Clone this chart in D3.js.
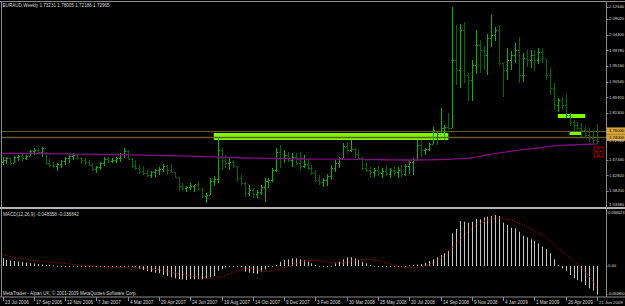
<!DOCTYPE html>
<html>
<head>
<meta charset="utf-8">
<script src="https://cdn.jsdelivr.net/npm/d3@7"></script>
<style>
  body { margin: 0; background: #000; }
  svg { display: block; }
  text { font-family: "Liberation Sans", Arial, sans-serif; }
</style>
</head>
<body>
<svg id="chart" width="625" height="306"></svg>
<script>
// EURAUD weekly, 23 Jul 2006 .. 21 Jun 2009 (153 bars)
const timeLabels = ['23 Jul 2006', '17 Sep 2006', '12 Nov 2006', '7 Jan 2007', '4 Mar 2007', '29 Apr 2007',
  '24 Jun 2007', '19 Aug 2007', '14 Oct 2007', '9 Dec 2007', '3 Feb 2008', '30 Mar 2008', '25 May 2008',
  '20 Jul 2008', '14 Sep 2008', '9 Nov 2008', '4 Jan 2009', '1 Mar 2009', '26 Apr 2009', '21 Jun 2009']
const labelStep = 8

const opens = [1.6676,
  1.6735, 1.6794, 1.6646, 1.6824, 1.6853, 1.6794, 1.6853, 1.7001, 1.7030, 1.6971,
  1.7090, 1.6646, 1.6587, 1.6558, 1.6617, 1.6705, 1.6794, 1.6853, 1.6883, 1.6794,
  1.6735, 1.6676, 1.6587, 1.6469, 1.6528, 1.6646, 1.6765, 1.6705, 1.6735, 1.6794,
  1.6912, 1.7001, 1.6765, 1.6558, 1.6499, 1.6410, 1.6351, 1.6292, 1.6380, 1.6439,
  1.6469, 1.6558, 1.6439, 1.6380, 1.6233, 1.5967, 1.5908, 1.5937, 1.5967, 1.6026,
  1.5878, 1.5671, 1.5701, 1.6114, 1.6174, 1.7030, 1.6735, 1.6646, 1.6676, 1.6558,
  1.6203, 1.6055, 1.5760, 1.5848, 1.5730, 1.5789, 1.5937, 1.6114, 1.6144, 1.6439,
  1.6971, 1.6794, 1.6883, 1.6735, 1.6824, 1.6646, 1.6558, 1.6617, 1.6499, 1.6351,
  1.6144, 1.6085, 1.6144, 1.6262, 1.6499, 1.6646, 1.6794, 1.7149, 1.7030, 1.7060,
  1.6912, 1.6794, 1.6499, 1.6439, 1.6380, 1.6439, 1.6351, 1.6410, 1.6321, 1.6439,
  1.6380, 1.6439, 1.6321, 1.6558, 1.6676, 1.6735, 1.7178, 1.7030, 1.7060, 1.7208,
  1.7621, 1.7503, 1.7681, 1.7710, 1.7681, 1.9690, 1.9394, 2.0577, 1.9247, 1.9099,
  1.9542, 2.0133, 1.9985, 1.9838, 2.0340, 2.0429, 2.0577, 1.9601, 1.9394, 1.9690,
  1.9838, 1.9985, 1.9247, 1.9749, 1.9690, 1.9838, 1.9690, 1.9926, 1.9749, 1.9247,
  1.8863, 1.8360, 1.8508, 1.8360, 1.8065, 1.7858, 1.7769, 1.7681, 1.7621, 1.7474,
  1.7385, 1.73231]

const highs = [
  1.6824, 1.6824, 1.6794, 1.6853, 1.6883, 1.6912, 1.6883, 1.7030, 1.7090, 1.7090,
  1.7119, 1.6971, 1.6765, 1.6676, 1.6646, 1.6735, 1.6824, 1.6883, 1.6942, 1.6912,
  1.6824, 1.6794, 1.6735, 1.6646, 1.6558, 1.6676, 1.6824, 1.6824, 1.6794, 1.6824,
  1.6942, 1.7090, 1.7030, 1.6794, 1.6735, 1.6587, 1.6558, 1.6439, 1.6410, 1.6469,
  1.6528, 1.6617, 1.6587, 1.6617, 1.6380, 1.6233, 1.6055, 1.5967, 1.6055, 1.5996,
  1.6085, 1.5908, 1.5760, 1.6203, 1.6262, 1.7385, 1.7090, 1.6883, 1.6794, 1.6735,
  1.6558, 1.6292, 1.6085, 1.5996, 1.5908, 1.5848, 1.5996, 1.6203, 1.6203, 1.6499,
  1.7090, 1.7178, 1.7030, 1.6971, 1.6942, 1.6942, 1.6971, 1.6883, 1.6735, 1.6587,
  1.6439, 1.6292, 1.6203, 1.6321, 1.6587, 1.6735, 1.6824, 1.7237, 1.7267, 1.7326,
  1.7090, 1.7030, 1.6824, 1.6676, 1.6528, 1.6499, 1.6558, 1.6499, 1.6558, 1.6499,
  1.6558, 1.6528, 1.6587, 1.6617, 1.6735, 1.6794, 1.7326, 1.7326, 1.7090, 1.7237,
  1.7710, 1.7562, 1.8272, 1.7769, 1.8124, 2.1264, 2.0724, 2.0754, 2.0813, 1.9306,
  1.9690, 2.0577, 2.0281, 2.0104, 2.0458, 2.1020, 2.0665, 2.0695, 1.9601, 2.0045,
  1.9956, 2.0192, 2.0370, 1.9897, 1.9985, 1.9985, 1.9985, 2.0045, 2.0045, 1.9720,
  1.9454, 1.9010, 1.8567, 1.8597, 1.8656, 1.8124, 1.7917, 1.7858, 1.7828, 1.7710,
  1.7681, 1.7621, 1.78005]

const lows = [
  1.6587, 1.6617, 1.6587, 1.6646, 1.6705, 1.6676, 1.6735, 1.6853, 1.6883, 1.6942,
  1.6824, 1.6587, 1.6528, 1.6499, 1.6410, 1.6499, 1.6587, 1.6646, 1.6735, 1.6735,
  1.6617, 1.6587, 1.6558, 1.6410, 1.6351, 1.6439, 1.6558, 1.6646, 1.6646, 1.6646,
  1.6676, 1.6794, 1.6735, 1.6499, 1.6439, 1.6321, 1.6292, 1.6233, 1.6203, 1.6233,
  1.6292, 1.6380, 1.6292, 1.6351, 1.6203, 1.5819, 1.5848, 1.5789, 1.5848, 1.5789,
  1.5848, 1.5612, 1.5464, 1.5701, 1.5967, 1.6055, 1.6439, 1.6499, 1.6439, 1.6499,
  1.6085, 1.5996, 1.5642, 1.5671, 1.5612, 1.5612, 1.5701, 1.5494, 1.5908, 1.6085,
  1.6380, 1.6499, 1.6646, 1.6676, 1.6528, 1.6587, 1.6439, 1.6499, 1.6439, 1.6292,
  1.6085, 1.5996, 1.5937, 1.5967, 1.6144, 1.6380, 1.6499, 1.6794, 1.6942, 1.6971,
  1.6794, 1.6735, 1.6439, 1.6380, 1.6203, 1.6233, 1.6262, 1.6203, 1.6262, 1.6203,
  1.6262, 1.6203, 1.6233, 1.6262, 1.6321, 1.6292, 1.6735, 1.6824, 1.6883, 1.7001,
  1.7208, 1.7178, 1.7533, 1.7326, 1.7621, 1.7681, 1.8951, 1.8863, 1.9010, 1.8478,
  1.8478, 1.9276, 1.9306, 1.9394, 1.9247, 2.0074, 2.0251, 1.9542, 1.8597, 1.9099,
  1.9394, 1.9601, 1.9010, 1.9040, 1.9483, 1.9454, 1.9365, 1.9572, 1.9601, 1.9099,
  1.8656, 1.8212, 1.8153, 1.8212, 1.7976, 1.7740, 1.7562, 1.7621, 1.7415, 1.7385,
  1.7267, 1.7208, 1.72186]

const closes = [
  1.6735, 1.6794, 1.6646, 1.6824, 1.6853, 1.6794, 1.6853, 1.7001, 1.7030, 1.6971,
  1.7090, 1.6646, 1.6587, 1.6558, 1.6617, 1.6705, 1.6794, 1.6853, 1.6883, 1.6794,
  1.6735, 1.6676, 1.6587, 1.6469, 1.6528, 1.6646, 1.6765, 1.6705, 1.6735, 1.6794,
  1.6912, 1.7001, 1.6765, 1.6558, 1.6499, 1.6410, 1.6351, 1.6292, 1.6380, 1.6439,
  1.6469, 1.6558, 1.6439, 1.6380, 1.6233, 1.5967, 1.5908, 1.5937, 1.5967, 1.6026,
  1.5878, 1.5671, 1.5701, 1.6114, 1.6174, 1.7030, 1.6735, 1.6646, 1.6676, 1.6558,
  1.6203, 1.6055, 1.5760, 1.5848, 1.5730, 1.5789, 1.5937, 1.6114, 1.6144, 1.6439,
  1.6971, 1.6794, 1.6883, 1.6735, 1.6824, 1.6646, 1.6558, 1.6617, 1.6499, 1.6351,
  1.6144, 1.6085, 1.6144, 1.6262, 1.6499, 1.6646, 1.6794, 1.7149, 1.7030, 1.7060,
  1.6912, 1.6794, 1.6499, 1.6439, 1.6380, 1.6439, 1.6351, 1.6410, 1.6321, 1.6439,
  1.6380, 1.6439, 1.6321, 1.6558, 1.6676, 1.6735, 1.7178, 1.7030, 1.7060, 1.7208,
  1.7621, 1.7503, 1.7681, 1.7710, 1.7681, 1.9690, 1.9394, 2.0577, 1.9247, 1.9099,
  1.9542, 2.0133, 1.9985, 1.9838, 2.0340, 2.0429, 2.0577, 1.9601, 1.9394, 1.9690,
  1.9838, 1.9985, 1.9247, 1.9749, 1.9690, 1.9838, 1.9690, 1.9926, 1.9749, 1.9247,
  1.8863, 1.8360, 1.8508, 1.8360, 1.8065, 1.7858, 1.7769, 1.7681, 1.7621, 1.7474,
  1.7385, 1.73231, 1.72965]

// purple moving average on the price window
const movingAvg = [
  1.6933, 1.6932, 1.6931, 1.6930, 1.6929, 1.6928, 1.6927, 1.6925, 1.6924, 1.6923,
  1.6922, 1.6921, 1.6920, 1.6918, 1.6917, 1.6916, 1.6915, 1.6914, 1.6912, 1.6911,
  1.6910, 1.6909, 1.6908, 1.6906, 1.6905, 1.6904, 1.6902, 1.6899, 1.6897, 1.6894,
  1.6892, 1.6890, 1.6887, 1.6885, 1.6882, 1.6880, 1.6878, 1.6875, 1.6873, 1.6870,
  1.6868, 1.6866, 1.6863, 1.6861, 1.6858, 1.6856, 1.6854, 1.6851, 1.6849, 1.6846,
  1.6844, 1.6839, 1.6835, 1.6830, 1.6826, 1.6821, 1.6817, 1.6812, 1.6808, 1.6803,
  1.6801, 1.6799, 1.6796, 1.6794, 1.6792, 1.6790, 1.6787, 1.6785, 1.6783, 1.6781,
  1.6779, 1.6776, 1.6774, 1.6772, 1.6770, 1.6767, 1.6765, 1.6764, 1.6764, 1.6763,
  1.6762, 1.6762, 1.6761, 1.6760, 1.6760, 1.6759, 1.6758, 1.6757, 1.6757, 1.6756,
  1.6754, 1.6753, 1.6751, 1.6750, 1.6748, 1.6746, 1.6745, 1.6743, 1.6742, 1.6740,
  1.6738, 1.6737, 1.6735, 1.6735, 1.6735, 1.6735, 1.6735, 1.6735, 1.6737, 1.6740,
  1.6743, 1.6746, 1.6749, 1.6752, 1.6755, 1.6761, 1.6767, 1.6773, 1.6779, 1.6785,
  1.6800, 1.6820, 1.6843, 1.6863, 1.6883, 1.6903, 1.6923, 1.6943, 1.6963, 1.6978,
  1.6994, 1.7010, 1.7027, 1.7040, 1.7052, 1.7063, 1.7075, 1.7090, 1.7107, 1.7124,
  1.7141, 1.7153, 1.7160, 1.7167, 1.7173, 1.7179, 1.7183, 1.7187, 1.7192, 1.7196,
  1.7200, 1.7204, 1.7208]

// MACD(12,26,9): main (histogram) and signal (dotted)
const macdMain = [
  0.0136, 0.0102, 0.0094, 0.0085, 0.0077, 0.0068, 0.0060, 0.0051, 0.0043, 0.0034,
  0.0026, 0.0017, 0.0017, 0.0009, 0.0004, 0.0002, -0.0003, -0.0005, -0.0004, -0.0006,
  -0.0008, -0.0007, -0.0010, -0.0012, -0.0011, -0.0009, -0.0010, -0.0008, -0.0006, -0.0007,
  -0.0009, -0.0010, -0.0012, -0.0015, -0.0020, -0.0048, -0.0068, -0.0085, -0.0102, -0.0114,
  -0.0124, -0.0153, -0.0170, -0.0193, -0.0210, -0.0222, -0.0230, -0.0239, -0.0222, -0.0227,
  -0.0222, -0.0227, -0.0210, -0.0193, -0.0170, -0.0080, -0.0056, -0.0026, -0.0012, -0.0012,
  -0.0012, -0.0017, -0.0097, -0.0114, -0.0124, -0.0136, -0.0097, -0.0056, -0.0017, -0.0012,
  0.0017, 0.0073, 0.0102, 0.0114, 0.0131, 0.0131, 0.0114, 0.0102, 0.0073, 0.0046,
  0.0017, 0.0002, -0.0012, -0.0012, 0.0003, 0.0046, 0.0073, 0.0114, 0.0148, 0.0148,
  0.0131, 0.0102, 0.0073, 0.0046, 0.0017, 0.0002, -0.0012, -0.0012, -0.0005, -0.0005,
  -0.0005, -0.0005, -0.0004, 0.0001, 0.0009, 0.0017, 0.0026, 0.0034, 0.0056, 0.0085,
  0.0114, 0.0148, 0.0187, 0.0216, 0.0261, 0.0557, 0.0631, 0.0767, 0.0755, 0.0738,
  0.0755, 0.0801, 0.0796, 0.0830, 0.0840, 0.0852, 0.0869, 0.0852, 0.0738, 0.0699,
  0.0653, 0.0643, 0.0585, 0.0511, 0.0489, 0.0455, 0.0431, 0.0387, 0.0329, 0.0285,
  0.0216, 0.0114, 0.0017, -0.0039, -0.0080, -0.0153, -0.0210, -0.0239, -0.0268, -0.0324,
  -0.0380, -0.0421, -0.048358]

const macdSignal = [
  0.0196, 0.0179, 0.0162, 0.0148, 0.0136, 0.0128, 0.0116, 0.0102, 0.0094, 0.0089,
  0.0082, 0.0072, 0.0063, 0.0058, 0.0053, 0.0049, 0.0043, 0.0036, 0.0029, 0.0022,
  0.0015, 0.0009, 0.0002, -0.0003, -0.0009, -0.0012, -0.0015, -0.0019, -0.0022, -0.0026,
  -0.0029, -0.0031, -0.0032, -0.0034, -0.0034, -0.0038, -0.0043, -0.0049, -0.0056, -0.0061,
  -0.0066, -0.0077, -0.0089, -0.0099, -0.0112, -0.0128, -0.0141, -0.0157, -0.0167, -0.0179,
  -0.0187, -0.0199, -0.0210, -0.0218, -0.0213, -0.0201, -0.0182, -0.0162, -0.0136, -0.0114,
  -0.0090, -0.0065, -0.0043, -0.0039, -0.0043, -0.0060, -0.0082, -0.0094, -0.0089, -0.0082,
  -0.0065, -0.0048, -0.0027, -0.0007, 0.0017, 0.0043, 0.0063, 0.0080, 0.0089, 0.0092,
  0.0092, 0.0090, 0.0082, 0.0072, 0.0061, 0.0056, 0.0055, 0.0056, 0.0065, 0.0077,
  0.0094, 0.0106, 0.0112, 0.0114, 0.0112, 0.0106, 0.0095, 0.0077, 0.0058, 0.0038,
  0.0019, 0.0000, -0.0014, -0.0026, -0.0034, -0.0034, -0.0026, -0.0012, 0.0009, 0.0029,
  0.0051, 0.0085, 0.0128, 0.0176, 0.0251, 0.0315, 0.0384, 0.0452, 0.0516, 0.0580,
  0.0631, 0.0677, 0.0719, 0.0757, 0.0781, 0.0801, 0.0811, 0.0815, 0.0813, 0.0801,
  0.0784, 0.0762, 0.0733, 0.0699, 0.0665, 0.0631, 0.0597, 0.0562, 0.0528, 0.0486,
  0.0426, 0.0366, 0.0307, 0.0256, 0.0196, 0.0145, 0.0085, 0.0026, -0.0034, -0.0102,
  -0.0170, -0.0256, -0.038842]

// user drawn objects
const hLevels = [1.76, 1.74]
const boxFrom = [54, 142, 145]
const boxTo = [114, 149, 148]
const boxTop = [1.7533, 1.8094, 1.7592]
const boxBottom = [1.7326, 1.7976, 1.7474]
const arrowBar = 152.4
const arrowPrice = 1.6971

// price scale labels
const priceTicks = [2.0902, 2.0440, 1.9978, 1.9516, 1.9054, 1.8592, 1.8130, 1.7668,
  1.7206, 1.6744, 1.6282, 1.5820, 1.5358]
const priceTop = 2.1264
const macdTicks = [0.094623, 0, -0.0518]
const macdTickText = ['0.094623', '0.00', '-0.051800']

const W = 625
const H = 306
const scaleX = 606
const fontSize = 4.6
const scaleFont = 4.2
const textColor = '#d8d8d8'

const svg = d3.select('#chart')
svg.append('rect').attr('width', W).attr('height', H).attr('fill', '#000')

const x = d3.scaleLinear().domain([0, closes.length - 1]).range([2.5, 597])
const y = d3.scaleLinear().domain([1.5358, 2.1404]).range([206.6, 2])
const ym = d3.scaleLinear().domain([-0.0518, 0.094623]).range([296.4, 210.5])

let defs = svg.append('defs')
defs.append('clipPath').attr('id', 'clipPrice').append('rect')
  .attr('x', 2).attr('y', 2).attr('width', scaleX - 2).attr('height', 205)
defs.append('clipPath').attr('id', 'clipMacd').append('rect')
  .attr('x', 2).attr('y', 210).attr('width', scaleX - 2).attr('height', 87)

let bars = d3.range(closes.length).map(function (i) {
  return { i: i, o: opens[i], h: highs[i], l: lows[i], c: closes[i] }
})

// ---- price window ----
let price = svg.append('g').attr('clip-path', 'url(#clipPrice)')

price.selectAll('rect.box')
  .data(boxFrom)
  .enter().append('rect')
  .attr('class', 'box')
  .attr('x', function (d) { return x(d) })
  .attr('y', function (d, k) { return y(boxTop[k]) })
  .attr('width', function (d, k) { return x(boxTo[k]) - x(d) })
  .attr('height', function (d, k) { return y(boxBottom[k]) - y(boxTop[k]) })
  .attr('fill', '#7cfc00')

price.selectAll('line.level')
  .data(hLevels)
  .enter().append('line')
  .attr('class', 'level')
  .attr('x1', 2).attr('x2', scaleX)
  .attr('y1', function (d) { return Math.round(y(d)) + 0.5 })
  .attr('y2', function (d) { return Math.round(y(d)) + 0.5 })
  .attr('stroke', '#6b5626')
  .attr('stroke-width', function (d, k) { return k === 0 ? 1 : 1.6 })

let barG = price.selectAll('g.bar')
  .data(bars)
  .enter().append('g')
  .attr('class', 'bar')
  .attr('fill', function (d) { return d.c >= d.o ? '#00b800' : '#006800' })

barG.append('rect')
  .attr('x', function (d) { return Math.round(x(d.i)) })
  .attr('y', function (d) { return Math.round(y(d.h)) })
  .attr('width', 1)
  .attr('height', function (d) { return Math.max(1, Math.round(y(d.l)) - Math.round(y(d.h))) })
barG.append('rect')
  .attr('x', function (d) { return Math.round(x(d.i)) - 1 })
  .attr('y', function (d) { return Math.round(y(d.o)) })
  .attr('width', 1).attr('height', 1)
barG.append('rect')
  .attr('x', function (d) { return Math.round(x(d.i)) + 1 })
  .attr('y', function (d) { return Math.round(y(d.c)) })
  .attr('width', 1).attr('height', 1)

price.append('path')
  .datum(movingAvg)
  .attr('fill', 'none')
  .attr('stroke', '#800880')
  .attr('stroke-width', 1.3)
  .attr('d', d3.line().x(function (d, i) { return x(i) }).y(function (d) { return y(d) }))

// red arrow marker
let ax = x(arrowBar)
let ay = y(arrowPrice)
price.append('rect')
  .attr('x', ax - 4.5).attr('y', ay - 5).attr('width', 9).attr('height', 10)
  .attr('fill', 'none').attr('stroke', '#a80000').attr('stroke-width', 1)
price.append('path')
  .attr('d', 'M' + ax + ',' + (ay - 3.5) + 'L' + (ax + 3) + ',' + (ay - 0.5) + 'H' + (ax + 1.2) +
    'V' + (ay + 3.5) + 'H' + (ax - 1.2) + 'V' + (ay - 0.5) + 'H' + (ax - 3) + 'Z')
  .attr('fill', 'none').attr('stroke', '#c00000').attr('stroke-width', 0.8)

// ---- MACD window ----
let macd = svg.append('g').attr('clip-path', 'url(#clipMacd)')
macd.selectAll('rect.hist')
  .data(macdMain)
  .enter().append('rect')
  .attr('class', 'hist')
  .attr('x', function (d, i) { return Math.round(x(i)) })
  .attr('y', function (d) { return Math.min(ym(d), ym(0)) })
  .attr('width', 1)
  .attr('height', function (d) { return Math.max(0.8, Math.abs(ym(d) - ym(0))) })
  .attr('fill', '#c4c4c4')

macd.append('path')
  .datum(macdSignal)
  .attr('fill', 'none')
  .attr('stroke', '#d40000')
  .attr('stroke-width', 1)
  .attr('stroke-dasharray', '1,1.6')
  .attr('d', d3.line().x(function (d, i) { return x(i) }).y(function (d) { return ym(d) }))

// ---- frames ----
let frame = svg.append('g').attr('fill', '#8c8c8c')
frame.append('rect').attr('x', 0).attr('y', 1).attr('width', W).attr('height', 1)
frame.append('rect').attr('x', 1).attr('y', 1).attr('width', 1).attr('height', 296)
frame.append('rect').attr('x', scaleX).attr('y', 1).attr('width', 1).attr('height', 296)
frame.append('rect').attr('x', 0).attr('y', 207).attr('width', W).attr('height', 2).attr('fill', '#b4b4b4')
frame.append('rect').attr('x', 0).attr('y', 296.5).attr('width', W).attr('height', 1)

// ---- price scale ----
let specials = [{ v: hLevels[0], box: true }, { v: hLevels[1], box: true }, { v: closes[closes.length - 1], box: false }]
let scale = svg.append('g').attr('font-size', scaleFont)

let gridTicks = priceTicks.filter(function (p) {
  return specials.every(function (s) { return Math.abs(y(s.v) - y(p)) > 5 })
})
let tickRows = [{ v: priceTop, t: priceTop.toFixed(5) }].concat(gridTicks.map(function (p) {
  return { v: p, t: p.toFixed(5) }
}))
scale.selectAll('line.ptick')
  .data(tickRows)
  .enter().append('line')
  .attr('x1', scaleX).attr('x2', scaleX + 2.5)
  .attr('y1', function (d) { return Math.round(y(d.v)) + 0.5 })
  .attr('y2', function (d) { return Math.round(y(d.v)) + 0.5 })
  .attr('stroke', '#8c8c8c')
scale.selectAll('text.ptick')
  .data(tickRows)
  .enter().append('text')
  .attr('x', scaleX + 3)
  .attr('y', function (d) { return Math.min(205, Math.max(4, y(d.v))) })
  .attr('dy', '0.35em')
  .attr('fill', textColor)
  .text(function (d) { return d.t })

let sp = scale.selectAll('g.special').data(specials).enter().append('g')
sp.filter(function (d) { return d.box }).append('rect')
  .attr('x', scaleX + 1).attr('width', W - scaleX - 1)
  .attr('y', function (d) { return y(d.v) - 3.3 }).attr('height', 6.6)
  .attr('fill', '#d9a33a')
sp.append('text')
  .attr('x', scaleX + 3)
  .attr('y', function (d) { return y(d.v) })
  .attr('dy', '0.35em')
  .attr('fill', function (d) { return d.box ? '#000' : textColor })
  .text(function (d) { return d.v.toFixed(5) })

// MACD scale
scale.selectAll('text.mtick')
  .data(macdTicks)
  .enter().append('text')
  .attr('x', scaleX + 2)
  .attr('y', function (d) { return Math.min(294, Math.max(213, ym(d))) })
  .attr('dy', '0.35em')
  .attr('fill', textColor)
  .attr('textLength', function (d, k) { return k === 1 ? null : 16.5 })
  .text(function (d, k) { return macdTickText[k] })
scale.selectAll('line.mtick')
  .data(macdTicks)
  .enter().append('line')
  .attr('x1', scaleX).attr('x2', scaleX + 1.5)
  .attr('y1', function (d) { return Math.min(294, Math.max(212, Math.round(ym(d)))) + 0.5 })
  .attr('y2', function (d) { return Math.min(294, Math.max(212, Math.round(ym(d)))) + 0.5 })
  .attr('stroke', '#8c8c8c')

// ---- time axis ----
let axis = svg.append('g').attr('font-size', fontSize)
let timeRows = timeLabels.map(function (t, k) { return { t: t, i: k * labelStep } })
axis.selectAll('line')
  .data(timeRows)
  .enter().append('line')
  .attr('x1', function (d) { return Math.round(x(d.i)) + 0.5 })
  .attr('x2', function (d) { return Math.round(x(d.i)) + 0.5 })
  .attr('y1', 297).attr('y2', 301)
  .attr('stroke', '#8c8c8c')
axis.selectAll('text')
  .data(timeRows)
  .enter().append('text')
  .attr('x', function (d) { return Math.round(x(d.i)) + 2 })
  .attr('y', 303.5)
  .attr('fill', textColor)
  .attr('font-size', function (d, k) { return k === timeRows.length - 1 ? 4.3 : fontSize })
  .text(function (d) { return d.t })

// ---- captions ----
let last = closes.length - 1
let cap = svg.append('g').attr('font-size', fontSize).attr('fill', textColor)
cap.append('text').attr('x', 2.5).attr('y', 6.8)
  .text('EURAUD,Weekly  ' + [opens[last], highs[last], lows[last], closes[last]].map(function (v) { return v.toFixed(5) }).join(' '))
cap.append('text').attr('x', 3).attr('y', 215.5)
  .text('MACD(12,26,9) ' + macdMain[last].toFixed(6) + ' ' + macdSignal[last].toFixed(6))
cap.append('text').attr('x', 2.7).attr('y', 294.5)
  .text('MetaTrader - Alpari UK, \u00a9 2001-2009 MetaQuotes Software Corp.')
</script>
</body>
</html>
